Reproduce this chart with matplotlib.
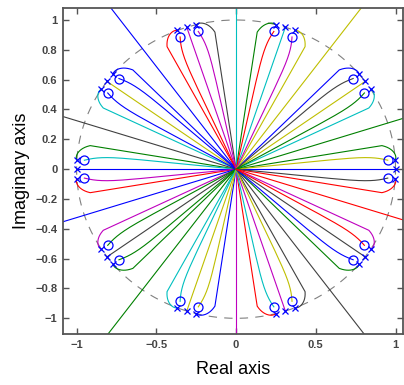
import numpy as np
import matplotlib
matplotlib.use('Agg')
import matplotlib.pyplot as plt

plt.rcParams['font.family'] = ['Liberation Sans', 'DejaVu Sans']

# MATLAB style colour letters
cmap = {'b': (0, 0, 1), 'g': (0, 0.5, 0), 'r': (1, 0, 0), 'c': (0, 0.75, 0.75),
        'm': (0.75, 0, 0.75), 'y': (0.75, 0.75, 0), 'k': (0.25, 0.25, 0.25)}

# open-loop poles (on the unit circle), angle in degrees
pole_angles = [-3.6, 0, 3.6, 32.4, 36, 39.6, 68.4, 72, 75.6, 104.4, 108, 111.6,
               140.4, 144, 147.6, 176.4, 180, 183.6, 212.4, 216, 219.6,
               248.4, 252, 255.6, 284.4, 288, 291.6, 320.4, 324, 327.6]
pole_colors = ['r', 'b', 'g', 'c', 'y', 'b', 'y', 'c', 'g', 'k', 'm', 'r',
               'b', 'y', 'c', 'g', 'b', 'r', 'm', 'k', 'g',
               'c', 'y', 'b', 'r', 'm', 'k', 'g', 'k', 'm']

# open-loop zeros
zero_radius = 0.9530183
zero_angles = [-3.6, 3.6, 32.4, 39.6, 68.4, 75.6, 104.4, 111.6, 140.4, 147.6,
               176.4, 183.6, 212.4, 219.6, 248.4, 255.6, 284.4, 291.6, 320.4, 327.6]
zero_colors = ['k', 'y', 'g', 'k', 'm', 'r', 'm', 'r', 'b', 'b',
               'c', 'm', 'g', 'g', 'c', 'y', 'c', 'y', 'b', 'r']

# branches going to infinity
asym_angles = [18, 54, 90, 126, 162, 198, 234, 270, 306, 342]
asym_colors = ['g', 'y', 'c', 'b', 'k', 'b', 'g', 'm', 'k', 'r']

poles = np.exp(1j * np.deg2rad(pole_angles))
zeros = zero_radius * np.exp(1j * np.deg2rad(zero_angles))
P = np.real(np.poly(poles))
Z = np.real(np.poly(zeros))
Z = np.concatenate([np.zeros(len(P) - len(Z)), Z])
K0 = -P[-1] / Z[-1]   # gain where every root sits at the origin


def match(prev, new):
    D = np.abs(prev[:, None] - new[None, :])
    out = np.empty_like(prev)
    for _ in range(len(prev)):
        i, j = np.unravel_index(np.argmin(D), D.shape)
        out[i] = new[j]
        D[i, :] = np.inf
        D[:, j] = np.inf
    return out


def locus(Ks, start):
    cur = start.copy()
    rows = [cur]
    for K in Ks:
        cur = match(cur, np.roots(P + K * Z))
        rows.append(cur)
    return np.array(rows)


# gains as sampled by rlocus: fine near the poles, then a jump to the origin
Kin = np.linspace(0, 0.93 * K0, 400)[1:]
inc = locus(Kin, poles)

Kout = K0 + np.logspace(np.log10(4e-8), 3.5, 1000)
out = locus(Kout[1:], np.roots(P + Kout[0] * Z))

fig = plt.figure(figsize=(4.04, 3.85), dpi=100)
ax = fig.add_axes([0.156, 0.1325, 0.842, 0.847])

t = np.linspace(0, 2 * np.pi, 400)
ax.plot(np.cos(t), np.sin(t), color=(0.5, 0.5, 0.5), lw=0.8, dashes=(7.5, 6.5))

for i in range(len(poles)):
    seg = inc[:, i]
    ax.plot(np.r_[seg.real, 0], np.r_[seg.imag, 0], color=cmap[pole_colors[i]], lw=0.8)

for j in range(out.shape[1]):
    seg = out[:, j]
    end = seg[-1]
    if abs(end) > 1.3:
        k = int(round((np.degrees(np.angle(end)) - 18) / 36)) % 10
        col = asym_colors[k]
    else:
        col = zero_colors[int(np.argmin(np.abs(zeros - end)))]
    ax.plot(np.r_[0, seg.real], np.r_[0, seg.imag], color=cmap[col], lw=0.8)

ax.plot(poles.real, poles.imag, 'x', color='b', ms=4, mew=0.9)
ax.plot(zeros.real, zeros.imag, 'o', mfc='none', mec='b', ms=6.5, mew=0.9)

ax.set_xlim(-1.085, 1.048)
ax.set_ylim(-1.105, 1.081)
ax.set_xticks([-1, -0.5, 0, 0.5, 1])
ax.set_xticklabels(['\u22121', '\u22120.5', '0', '0.5', '1'])
yt = [-1, -0.8, -0.6, -0.4, -0.2, 0, 0.2, 0.4, 0.6, 0.8, 1]
ax.set_yticks(yt)
ax.set_yticklabels([('%g' % v).replace('-', '\u2212') for v in yt])
ax.tick_params(direction='in', top=True, right=True, length=4, width=1,
               color='#555555', labelcolor='#444444', labelsize=8, pad=4)
for lab in ax.get_xticklabels() + ax.get_yticklabels():
    lab.set_fontweight('bold')
for s in ax.spines.values():
    s.set_color('#555555')
    s.set_linewidth(1.3)

ax.set_xlabel('Real axis', fontsize=13, labelpad=8)
ax.set_ylabel('Imaginary axis', fontsize=13, labelpad=4)

fig.savefig('out.png', dpi=100)
